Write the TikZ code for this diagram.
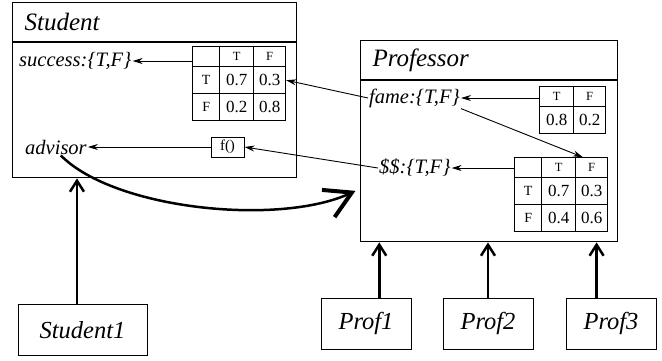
\documentclass[tikz,border=0pt]{standalone}
\usepackage{fontspec}
\setmainfont{Liberation Serif}
\usetikzlibrary{positioning,matrix,arrows.meta}

\newcommand{\fsize}[1]{\fontsize{#1}{#1}\selectfont}

\tikzset{
  classhead/.style={draw, line width=1.2pt, minimum height=39pt, inner xsep=12pt,
    inner ysep=0pt, align=left, anchor=north west, font=\fsize{25}\itshape},
  classbody/.style={draw, line width=1.2pt},
  attr/.style={inner sep=1pt, anchor=west, font=\fsize{20.5}\itshape},
  inst/.style={draw, line width=1pt, minimum height=51pt, font=\fsize{24.5}\itshape},
  cpt/.style={matrix of nodes, nodes in empty cells, inner sep=0pt, anchor=north west,
    column sep=-1pt, row sep=-1pt,
    nodes={draw, line width=1pt, inner sep=0pt, anchor=center,
      minimum height=27pt, font=\fsize{17}},
    row 1/.style={nodes={minimum height=20pt, font=\fsize{12.5}}}},
  dep/.style={line width=0.9pt, -{Stealth[length=10pt,width=6pt]}},
  link/.style={line width=2.5pt, -{Straight Barb[length=11pt,width=14pt]}},
  refarrow/.style={line width=2.5pt, shorten >=5pt,
    -{Straight Barb[length=26pt,width=30pt,line width=4pt]}},
}

\begin{document}
\begin{tikzpicture}[x=1pt,y=-1pt]
  \useasboundingbox (0,0) rectangle (662,360);

  %% class Student
  \node[classhead, text width=260pt] (studenthead) at (12,2) {Student};
  \node[classbody, minimum width=284pt, minimum height=135pt,
    below=0pt of studenthead] (student) {};
  \node[attr] (success) at (18,61) {success:\{T,F\}};
  \node[attr] (advisor) at (24,147) {advisor};
  \matrix[cpt, column 1/.style={nodes={minimum width=27pt, font=\fsize{14}}},
    column 2/.style={nodes={minimum width=34pt}},
    column 3/.style={nodes={minimum width=32pt}}] (stab) at (192,46) {
      & T & F \\
    T & 0.7 & 0.3 \\
    F & 0.2 & 0.8 \\
  };
  \node[draw, line width=1pt, minimum width=33pt, minimum height=20pt, inner sep=0pt,
    font=\fsize{15}] (advfun) at (227.5,147) {f()};

  %% class Professor
  \node[classhead, text width=233pt] (profhead) at (360,40) {Professor};
  \node[classbody, minimum width=257pt, minimum height=161pt,
    below=0pt of profhead] (professor) {};
  \node[attr] (fame) at (368,98) {fame:\{T,F\}};
  \node[attr] (money) at (378,168) {\$\$:\{T,F\}};
  \matrix[cpt, column 1/.style={nodes={minimum width=34pt}},
    column 2/.style={nodes={minimum width=32pt}}] (ftab) at (539,86) {
    T & F \\
    0.8 & 0.2 \\
  };
  \matrix[cpt, column 1/.style={nodes={minimum width=27pt, font=\fsize{14}}},
    column 2/.style={nodes={minimum width=34pt}},
    column 3/.style={nodes={minimum width=32pt}}] (ptab) at (514,157) {
      & T & F \\
    T & 0.7 & 0.3 \\
    F & 0.4 & 0.6 \\
  };

  %% objects
  \node[inst, minimum width=129pt] (student1) at (82.5,330) {Student1};
  \node[inst, minimum width=90pt] (prof1) at (366,323.5) {Prof1};
  \node[inst, minimum width=90pt] (prof2) at (488,323.5) {Prof2};
  \node[inst, minimum width=90pt] (prof3) at (611,323.5) {Prof3};

  %% local tables
  \draw[dep] (stab.west |- success) -- (success);
  \draw[dep] (advfun.west) -- (advisor.east);
  \draw[dep] (ftab.west |- fame) -- (fame);
  \draw[dep] (ptab.west |- money) -- (money);

  %% parents
  \draw[dep] (fame.west) -- (stab-2-3.east);
  \draw[dep] (money.west) -- (advfun.east);
  \draw[dep] (fame.south east) -- (ptab-1-3.130);

  %% advisor reference
  \draw[refarrow] (advisor.-60) .. controls (115,210) and (280,226) .. (professor.192);

  %% instance of
  \draw[link] (student1.102) -- (student1.102 |- student.south);
  \draw[link] (prof1.63) -- (prof1.63 |- professor.south);
  \draw[link] (prof2.north) -- (professor.south -| prof2.north);
  \draw[link] (prof3.119) -- (prof3.119 |- professor.south);
\end{tikzpicture}
\end{document}
